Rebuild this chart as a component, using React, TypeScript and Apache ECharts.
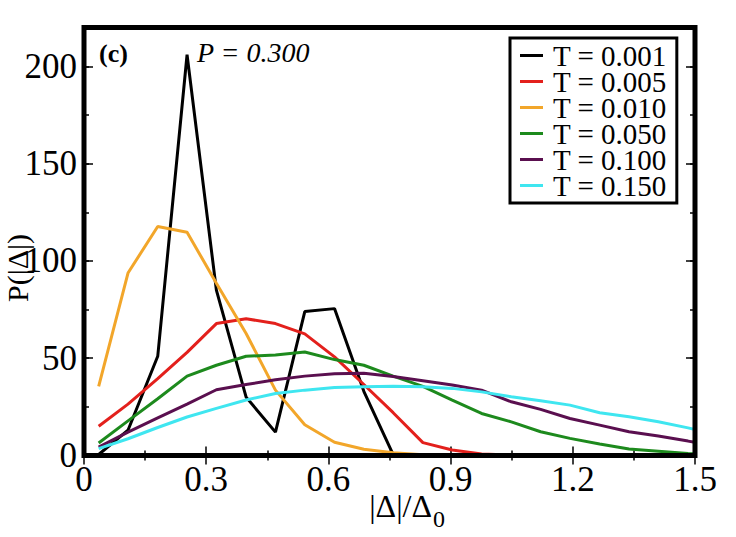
import React, { useEffect, useRef } from "react";
import * as echarts from "echarts";

const xValues = [0.036, 0.108, 0.181, 0.253, 0.325, 0.398, 0.47, 0.542, 0.615, 0.687, 0.759, 0.832, 0.904, 0.976, 1.049, 1.121, 1.193, 1.266, 1.338, 1.41, 1.483, 1.555];

const seriesNames = ["T = 0.001", "T = 0.005", "T = 0.010", "T = 0.050", "T = 0.100", "T = 0.150"];

const t001 = [0.5, 13, 51, 206, 85, 30, 12, 74, 75.5, 33, 0.5, 0, 0, 0, 0, 0, 0, 0, 0, 0, 0, 0];
const t005 = [15, 26.4, 39.5, 53, 67.8, 70.3, 67.8, 62.5, 50.7, 36.5, 22, 6.6, 2.8, 0.8, 0.2, 0, 0, 0, 0, 0, 0, 0];
const t010 = [35.5, 93.8, 117.7, 114.8, 88.5, 62.7, 33.6, 15.8, 6.8, 3.2, 1.4, 0.4, 0, 0, 0, 0, 0, 0, 0, 0, 0, 0];
const t050 = [6.4, 17.8, 29.2, 40.8, 46.4, 51, 51.7, 53.2, 49.3, 46.4, 40.8, 35.5, 28.5, 21.6, 17.3, 12.2, 8.8, 5.9, 3.3, 2.2, 1, 0.5];
const t100 = [4.3, 12, 19.3, 26.4, 33.8, 36.5, 38.9, 40.8, 42, 42.3, 40.6, 38.4, 36.2, 33.6, 27.6, 23.7, 19, 15.6, 12.2, 10, 7.4, 4.8];
const t150 = [3.5, 8.6, 14.4, 19.8, 24.2, 28.5, 31.9, 33.6, 35, 35.3, 35.6, 35.3, 34.5, 32.7, 30.2, 28.1, 25.9, 22, 19.9, 17.3, 14.2, 10.5];

const seriesValues = [t001, t005, t010, t050, t100, t150];
const colors = ["#000000", "#e3201c", "#f2a62a", "#1d8a1d", "#5a0f4f", "#3fe6f0"];

const FONT = "'Liberation Serif', 'Times New Roman', serif";

export default function App() {
  const ref = useRef<HTMLDivElement>(null);
  useEffect(() => {
    if (!ref.current) return;
    const chart = echarts.init(ref.current, undefined, { renderer: "svg" });
    const tickStyle = { color: "#000", width: 1.5 };
    const baseX = {
      type: "value",
      min: 0,
      max: 1.5,
      interval: 0.3,
      axisLine: { show: false },
      splitLine: { show: false },
      minorSplitLine: { show: false },
      axisTick: { show: true, inside: true, length: 9, lineStyle: tickStyle },
      minorTick: { show: true, splitNumber: 2, length: 5, lineStyle: tickStyle },
    };
    const baseY = (interval: number, len: number, position: string, labels: boolean) => ({
      type: "value",
      min: 0,
      max: 220,
      interval,
      position,
      axisLine: { show: false },
      splitLine: { show: false },
      axisTick: { show: true, inside: true, length: len, lineStyle: tickStyle },
      axisLabel: labels
        ? { show: true, fontFamily: FONT, fontSize: 35, color: "#000", margin: 7, showMaxLabel: false }
        : { show: false },
    });
    const option = {
      animation: false,
      backgroundColor: "#ffffff",
      grid: { left: 84, right: 41, top: 27.5, bottom: 81.5, show: false, outerBoundsMode: "none" },
      xAxis: [
        {
          ...baseX,
          position: "bottom",
          axisLabel: { show: true, fontFamily: FONT, fontSize: 35, color: "#000", margin: 6 },
        },
        { ...baseX, position: "top", axisLabel: { show: false } },
      ],
      yAxis: [
        baseY(50, 9, "left", true),
        baseY(25, 5, "left", false),
        baseY(50, 9, "right", false),
        baseY(25, 5, "right", false),
      ],
      legend: {
        orient: "vertical",
        left: 510,
        top: 38,
        padding: [3, 10, 3, 10],
        itemWidth: 23,
        itemHeight: 3,
        itemGap: -3,
        icon: "rect",
        borderColor: "#000",
        borderWidth: 3,
        backgroundColor: "#fff",
        selectedMode: false,
        textStyle: { fontFamily: FONT, fontSize: 29, color: "#000", lineHeight: 26, padding: [0, 0, 0, 5] },
        data: seriesNames,
      },
      series: seriesNames.map((name, k) => ({
        name,
        type: "line",
        xAxisIndex: 0,
        yAxisIndex: 0,
        symbol: "none",
        clip: true,
        lineStyle: { color: colors[k], width: 3 },
        itemStyle: { color: colors[k] },
        data: xValues.map((x, i) => [x, seriesValues[k][i]]),
      })),
      graphic: [
        {
          type: "rect",
          z: 100,
          shape: { x: 84, y: 27.5, width: 611, height: 428 },
          style: { fill: "none", stroke: "#000", lineWidth: 5 },
        },
        {
          type: "text",
          z: 100,
          x: 99,
          y: 53,
          style: { text: "(c)", fontFamily: FONT, fontSize: 26, fontWeight: "bold", fill: "#000", align: "left", verticalAlign: "middle" },
        },
        {
          type: "text",
          z: 100,
          x: 197,
          y: 52,
          style: { text: "P = 0.300", fontFamily: FONT, fontSize: 28, fontStyle: "italic", fill: "#000", align: "left", verticalAlign: "middle" },
        },
        {
          type: "text",
          z: 100,
          x: 432,
          y: 506,
          style: { text: "|Δ|/Δ", fontFamily: FONT, fontSize: 32, fill: "#000", align: "right", verticalAlign: "middle" },
        },
        {
          type: "text",
          z: 100,
          x: 433,
          y: 519,
          style: { text: "0", fontFamily: FONT, fontSize: 24, fill: "#000", align: "left", verticalAlign: "middle" },
        },
        {
          type: "text",
          z: 100,
          x: 17,
          y: 268,
          rotation: Math.PI / 2,
          style: { text: "P(|Δ|)", fontFamily: FONT, fontSize: 30, fill: "#000", align: "center", verticalAlign: "middle" },
        },
      ],
    };
    chart.setOption(option as any);
    return () => chart.dispose();
  }, []);
  return (
    <div
      ref={ref}
      style={{ position: "fixed", left: 0, top: 0, width: 736, height: 537, background: "#fff" }}
    />
  );
}
